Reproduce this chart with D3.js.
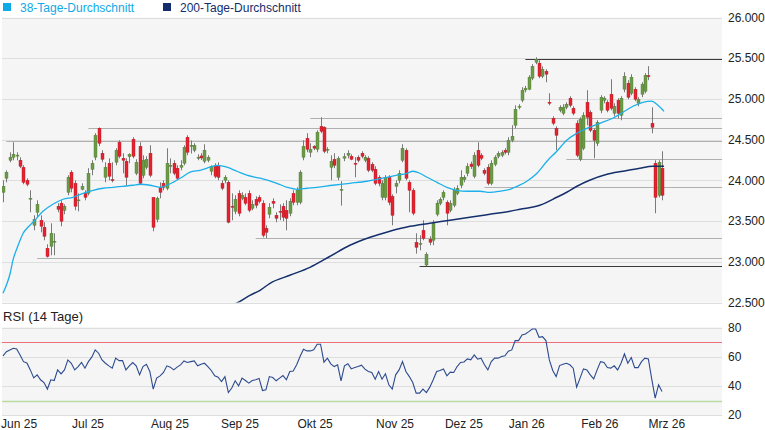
<!DOCTYPE html>
<html lang="de">
<head>
    <meta charset="UTF-8">
    <title>DAX Chart</title>
    <script src="https://d3js.org/d3.v7.min.js"></script>
    <style>
        body {
            margin: 0;
            background: #fff;
            font-family: Arial, "Liberation Sans", sans-serif;
        }

        svg text {
            fill: #222;
            font-size: 12px;
        }

        .panel {
            fill: #f5f5f5;
        }

        .grid line {
            stroke: #dedede;
            stroke-width: 1;
        }

        .level {
            stroke: #b0b0b0;
            stroke-width: 1;
        }

        .level.strong {
            stroke: #3a3a3a;
        }

        .wick {
            stroke: #7a7a7a;
            stroke-width: 1;
        }
    </style>
</head>
<body>
    <div id="chart"></div>
    <script>
        // daily candles [open, high, low, close], Jun 2025 - Feb 2026
        const ohlc = [
            [23853,24001,23731,23927],[24026,24124,23976,24100],[24247,24345,24222,24284],[24284,24468,24247,24320],
            [24300,24345,24247,24310],[24247,24284,24149,24173],[24161,24185,23952,23976],[24001,24026,23927,23952],
            [23768,23878,23608,23780],[23448,23571,23387,23522],[23608,23755,23547,23706],[23510,23571,23362,23436],
            [23424,23485,23264,23313],[23166,23215,23052,23065],[23190,23473,23080,23350],[23240,23350,23080,23252],
            [23682,23720,23608,23645],[23720,23755,23436,23498],[23633,23706,23584,23682],[23853,24063,23817,24038],
            [24100,24124,23853,23903],[23964,24001,23633,23682],[23750,23840,23620,23760],[23890,23964,23878,23927],
            [23840,23878,23755,23791],[23840,24149,23815,24087],[24136,24247,24063,24210],[24284,24579,24247,24554],
            [24640,24650,24420,24456],[24333,24370,24222,24259],[24038,24222,23976,24161],[24210,24271,24001,24050],
            [24010,24222,23976,24001],[24222,24394,24185,24370],[24468,24493,24271,24296],[24271,24333,24087,24247],
            [24235,24271,23940,24038],[24290,24333,24210,24320],[24505,24530,24271,24296],[24087,24259,24063,24222],
            [24419,24468,23940,23964],[24063,24308,24026,24247],[24161,24296,24136,24259],[24333,24431,24038,24063],
            [23791,23791,23375,23424],[23522,23800,23485,23780],[23915,23976,23780,23853],[23964,24001,23878,23915],
            [23903,24394,23878,24210],[24170,24270,24087,24185],[24210,24247,24063,24087],[24149,24185,24001,24026],
            [24161,24247,24124,24185],[24210,24431,24185,24407],[24530,24554,24308,24345],[24420,24490,24330,24430],
            [24370,24456,24345,24431],[24270,24320,24247,24284],[24300,24333,24250,24275],[24235,24443,24210,24370],
            [24247,24308,24222,24284],[24112,24185,24063,24173],[24173,24210,24026,24050],[24185,24222,24001,24038],
            [23964,24001,23878,23903],[24001,24063,23964,24038],[23976,24001,23473,23485],[23682,23840,23510,23670],
            [23620,23817,23584,23768],[23840,23878,23559,23596],[23780,23853,23755,23817],[23791,23840,23694,23718],
            [23840,23878,23608,23633],[23657,23755,23633,23706],[23768,23804,23657,23694],[23791,23817,23718,23743],
            [23718,23755,23300,23325],[23411,23448,23290,23362],[23584,23720,23534,23670],[23743,23780,23657,23718],
            [23571,23608,23485,23534],[23620,23706,23510,23610],[23682,23718,23498,23547],[23633,23755,23387,23534],
            [23596,23780,23559,23743],[23840,23878,23694,23731],[23731,23915,23694,23878],[23731,24124,23706,24100],
            [24284,24493,24247,24419],[24517,24579,24345,24382],[24345,24456,24284,24382],[24420,24431,24370,24395],
            [24382,24615,24345,24591],[24664,24775,24579,24603],[24652,24664,24333,24357],[24380,24407,24333,24382],
            [24161,24308,24001,24235],[24259,24333,24149,24185],[24038,24296,24001,24271],[23880,23990,23690,23890],
            [24271,24333,24235,24290],[24308,24370,24271,24333],[24296,24320,24247,24259],[24210,24284,24038,24200],
            [24284,24308,24222,24247],[24333,24357,24271,24296],[24247,24308,24222,24284],[24271,24296,24100,24124],
            [24198,24222,24100,24124],[24136,24173,23940,23964],[24038,24063,23927,23964],[23791,24001,23755,23964],
            [23791,24063,23755,24038],[24038,24063,23694,23731],[23804,23829,23448,23571],[23927,24001,23840,23964],
            [24001,24124,23964,24087],[24247,24443,24222,24394],[24370,24394,24001,24026],[23976,24001,23608,23878],
            [23878,23903,23571,23596],[23239,23350,23100,23178],[23215,23325,23141,23225],[23387,23510,23264,23289],
            [22960,23117,22945,23092],[23276,23313,23203,23240],[23264,23510,23203,23473],[23584,23755,23559,23720],
            [23718,23791,23694,23768],[23791,23878,23755,23853],[23731,23755,23448,23596],[23633,23755,23608,23718],
            [23694,23915,23669,23878],[23840,23940,23817,23903],[23940,24124,23903,24038],[24010,24063,23976,24038],
            [24087,24210,24050,24173],[24200,24230,24140,24170],[24050,24345,24026,24308],[24370,24468,24161,24185],
            [24308,24333,24247,24271],[24124,24149,24063,24087],[24161,24198,23940,23964],[23964,24247,23940,24210],
            [24198,24308,24173,24284],[24296,24357,24271,24333],[24308,24370,24284,24345],[24370,24394,24320,24345],
            [24345,24530,24308,24493],[24493,24677,24468,24542],[24677,24922,24640,24873],[24897,24935,24873,24910],
            [24984,25144,24959,25107],[25110,25160,25080,25130],[25119,25291,25107,25267],[25255,25427,25230,25402],
            [25451,25512,25427,25488],[25439,25475,25255,25279],[25279,25400,25255,25365],[25340,25365,25205,25304],
            [24960,25070,24922,24947],[24762,24787,24677,24701],[24640,24664,24370,24554],[24861,24922,24836,24897],
            [24824,24935,24799,24897],[24897,24959,24873,24935],[25009,25033,24897,24922],[24885,24910,24799,24824],
            [24701,24738,24284,24308],[24259,24775,24235,24750],[24394,24836,24370,24799],[24959,25107,24677,24775],
            [24836,24861,24591,24615],[24615,24640,24271,24493],[24456,24738,24420,24713],[24861,25046,24824,25021],
            [24984,25033,24947,25009],[24959,24984,24836,24861],[25058,25242,24861,24885],[24824,24947,24787,24910],
            [24984,25009,24762,24824],[24799,25033,24738,25009],[25119,25328,25082,25279],[25193,25230,24996,25021],
            [25070,25304,25046,25267],[25119,25144,24972,24996],[24947,25021,24910,24996],[25058,25205,25021,25181],
            [25095,25316,25070,25291],[25285,25402,25230,25280],[24701,24897,24578,24652],[24210,24247,23596,23791],
            [23817,24247,23791,24222],[24149,24357,23755,23817]
        ];

        // moving averages as [day index, value]
        const ma38 = [
            [0,22613],[1.2,22736],[2.1,22859],[2.9,23018],[4.1,23166],[5,23264],[5.9,23350],[7.3,23424],
            [8.8,23485],[11.7,23620],[14.6,23706],[17.6,23768],[20.5,23792],[23.4,23841],[26.4,23878],
            [29.3,23903],[32.2,23915],[35.1,23927],[38.1,23940],[40.1,23952],[43,23940],[46,23915],
            [48,23940],[49.8,23976],[52.4,24038],[54.8,24100],[57.7,24124],[60.6,24161],[62.7,24185],
            [65.6,24161],[68.5,24112],[71.4,24063],[75.3,24026],[80.2,23964],[83.2,23915],[86.1,23890],
            [89,23903],[91.9,23915],[96.6,23940],[101.6,23964],[106.6,23989],[109.5,24013],[112.4,24038],
            [115.4,24063],[118.3,24087],[120.1,24112],[122.1,24087],[124.2,24038],[127.1,23976],[130,23915],
            [132.9,23878],[135.9,23866],[139.7,23866],[142.6,23853],[145.5,23866],[148.5,23890],[149.9,23915],
            [153.4,23989],[156.4,24087],[159.3,24235],[162.2,24358],[165.1,24493],[168.1,24579],[171.8,24652],
            [174.8,24701],[178.6,24763],[181.6,24837],[184.5,24910],[187.4,24959],[190,24972],[191.8,24922],
            [193.6,24849]
        ];

        const ma200 = [
            [67.5,22480],[68.5,22496],[72.3,22588],[75.3,22650],[78.2,22736],[84,22834],[89.9,22932],
            [95.8,23068],[101.6,23203],[107.5,23301],[113.3,23375],[119.2,23436],[125,23473],[130.9,23510],
            [136.7,23547],[142.6,23584],[148.5,23621],[151.4,23645],[157.2,23694],[162.2,23792],[165.1,23854],
            [168.1,23928],[171.8,24001],[176.9,24075],[181.6,24112],[186.5,24149],[190.3,24173],[193.6,24173]
        ];

        // RSI (14) as [day index, value]
        const rsi = [
            [0,60.8],[1,63.7],[3,66],[4,65.5],[5,61.4],[6,56.8],[7,55.9],[8,51.1],[9,45.6],[10,47.7],
            [11,44.3],[12,42.4],[13,37.9],[14,44.3],[15,43.8],[16,51.1],[17,48.4],[18,51.1],[19,58],[20,55.7],
            [21,51.1],[22,53.4],[23,56.2],[24,52.3],[25,56.8],[26,59.9],[27,64.9],[28,62.6],[29,58],[30,55.7],
            [31,53.9],[32,52.3],[33,59.2],[34,57.5],[35,57.5],[36,51.1],[37,53.9],[38,56.2],[39,53.9],[40,47.7],
            [41,53.4],[42,55],[43,50],[44,37.9],[45,45.4],[46,47],[47,49.3],[48,53.9],[49,53],[50,51.1],
            [51,53],[52,54.6],[53,57.3],[54,56.2],[55,56.8],[56,57.3],[57,53.9],[58,55],[59,55.7],[60,53.4],
            [61,50.7],[62,47],[63,46.1],[64,43.1],[65,46.5],[66,35.5],[67,38.6],[68,43.6],[69,40.1],[70,45.4],
            [71,43.8],[72,42],[73,43.8],[74,44.3],[75,45.2],[76,36.9],[77,37.4],[78,46.5],[79,45.8],[80,43.6],
            [81,45.4],[82,47.2],[83,44.3],[84,50],[85,50.4],[86,54.6],[87,60.3],[88,65.4],[89,64.2],[90,64.2],
            [91,64.9],[92,68.8],[93,68.8],[94,56.4],[95,59.2],[96,55.3],[97,53.4],[98,54.6],[99,43.6],[100,53.9],
            [101,55.3],[102,51.8],[103,52.7],[104,53.4],[105,54.4],[106,51.6],[107,50],[108,49.3],[109,44.7],[110,50],
            [111,44.7],[112,48.4],[113,40.8],[114,37.9],[115,47.7],[116,51.1],[117,56.8],[118,50],[119,46.5],[120,42.4],
            [121,35.1],[122,35.1],[123,37.9],[124,35.5],[125,39.2],[126,44.3],[127,50],[128,50.7],[129,51.8],[130,47],
            [131,49.6],[132,49.3],[133,53.4],[134,56.2],[135,56.6],[136,58.7],[137,58],[138,61.4],[139,58.5],[140,59.2],
            [141,54.6],[142,51.1],[143,56.8],[144,59.2],[145,59.2],[146,60.3],[147,60.8],[148,64],[149,64.9],[150,71.3],
            [151,71.3],[152,75.2],[153,75.9],[154,77.5],[155,79.3],[156,79.3],[157,73.6],[158,74],[159,71.3],[160,58],
            [161,50.7],[162,46.5],[163,54.1],[164,55],[165,55.7],[166,54.6],[167,52.3],[168,39.2],[169,45.4],[170,51.8],
            [171,51.1],[172,47.7],[173,44.9],[174,51.1],[175,56.8],[176,56.2],[177,52.7],[178,52.3],[179,53.9],[180,51.1],
            [181,55.7],[182,62.1],[183,55.7],[184,59.6],[185,52.7],[186,52.7],[187,56.8],[188,59.2],[189,58.7],[190,44.7],
            [191,31.7],[192,40.8],[193,36.2]
        ];

        // horizontal support / resistance lines: [price, start index, strong]
        const levels = [
            [25496, 153, true],
            [24767, 90, false],
            [24644, 25, false],
            [24480, 1, false],
            [24268, 165, false],
            [23919, 141, false],
            [23289, 74, false],
            [23052, 10, false],
            [22945, 122, true]
        ];

        const priceTicks = [22500, 23000, 23500, 24000, 24500, 25000, 25500, 26000];
        const rsiTicks = [20, 40, 60, 80];
        const monthLabels = ["Jun 25", "Jul 25", "Aug 25", "Sep 25", "Okt 25", "Nov 25", "Dez 25", "Jan 26", "Feb 26", "Mrz 26"];
        const monthIdx = [4.7, 24.9, 48.9, 69.4, 91.4, 114.8, 135, 153.4, 174.8, 194.4];

        const W = 765, H = 430;
        const left = 2, right = 722;
        const mainTop = 17.5, mainBottom = 302.5;
        const rsiTop = 327, rsiBottom = 415;

        const svg = d3.select("#chart")
            .append("svg")
            .attr("width", W)
            .attr("height", H);

        const x = d3.scaleLinear().domain([0, 193]).range([3, 662]);
        const y = d3.scaleLinear().domain([22500, 26000]).range([mainBottom, mainTop]);
        const yR = d3.scaleLinear().domain([20, 80]).range([rsiBottom, 328]);

        svg.append("defs").append("clipPath").attr("id", "main-clip")
            .append("rect")
            .attr("x", left).attr("y", mainTop)
            .attr("width", right - left).attr("height", mainBottom - mainTop);

        // Legend
        const legend = [
            { label: "38-Tage-Durchschnitt", color: "#0fa9e6", x: 3 },
            { label: "200-Tage-Durchschnitt", color: "#132e6b", x: 163 }
        ];
        legend.forEach(l => {
            svg.append("rect")
                .attr("x", l.x).attr("y", 3)
                .attr("width", 8).attr("height", 8)
                .attr("fill", l.color);
            svg.append("text")
                .attr("x", l.x + 17).attr("y", 12)
                .style("fill", l.color)
                .text(l.label);
        });

        // Main panel
        svg.append("rect")
            .attr("class", "panel")
            .attr("x", left).attr("y", mainTop)
            .attr("width", right - left).attr("height", mainBottom - mainTop);

        svg.append("g")
            .attr("class", "grid")
            .selectAll("line")
            .data(priceTicks)
            .join("line")
            .attr("x1", left).attr("x2", right)
            .attr("y1", d => Math.round(y(d)) + 0.5)
            .attr("y2", d => Math.round(y(d)) + 0.5);

        svg.append("g")
            .selectAll("text")
            .data(priceTicks)
            .join("text")
            .attr("x", 728)
            .attr("y", d => y(d))
            .attr("dy", "0.35em")
            .text(d => d3.format(",")(d).replace(",", "."));

        // Support and resistance lines
        svg.append("g")
            .selectAll("line")
            .data(levels)
            .join("line")
            .attr("class", d => d[2] ? "level strong" : "level")
            .attr("x1", d => x(d[1]))
            .attr("x2", right)
            .attr("y1", d => Math.round(y(d[0])) + 0.5)
            .attr("y2", d => Math.round(y(d[0])) + 0.5);

        const plot = svg.append("g").attr("clip-path", "url(#main-clip)");

        // Candles
        const candles = plot.append("g")
            .selectAll("g")
            .data(ohlc)
            .join("g");

        candles.append("line")
            .attr("class", "wick")
            .attr("x1", (d, i) => Math.round(x(i)) + 0.5)
            .attr("x2", (d, i) => Math.round(x(i)) + 0.5)
            .attr("y1", d => y(d[1]))
            .attr("y2", d => y(d[2]));

        candles.append("rect")
            .attr("x", (d, i) => Math.round(x(i)) - 1)
            .attr("width", 3)
            .attr("y", d => y(Math.max(d[0], d[3])))
            .attr("height", d => Math.max(1, Math.abs(y(d[0]) - y(d[3]))))
            .attr("fill", d => d[3] >= d[0] ? "#6c9a48" : "#e5222f")
            .attr("stroke", d => d[3] >= d[0] ? "#4d7a30" : "#b01825")
            .attr("stroke-width", 0.4);

        // Moving averages
        const maLine = d3.line()
            .x(d => x(d[0]))
            .y(d => y(d[1]))
            .curve(d3.curveMonotoneX);

        plot.append("path")
            .datum(ma200)
            .attr("fill", "none")
            .attr("stroke", "#142f6c")
            .attr("stroke-width", 1.5)
            .attr("d", maLine);

        plot.append("path")
            .datum(ma38)
            .attr("fill", "none")
            .attr("stroke", "#1cb0ea")
            .attr("stroke-width", 1.3)
            .attr("d", maLine);

        // RSI panel
        svg.append("text")
            .attr("x", 3).attr("y", 321)
            .style("font-size", "13px")
            .text("RSI (14 Tage)");

        svg.append("rect")
            .attr("class", "panel")
            .attr("x", left).attr("y", rsiTop)
            .attr("width", right - left).attr("height", rsiBottom - rsiTop);

        svg.append("g")
            .attr("class", "grid")
            .selectAll("line")
            .data(rsiTicks)
            .join("line")
            .attr("x1", left).attr("x2", right)
            .attr("y1", d => Math.round(yR(d)) + 0.5)
            .attr("y2", d => Math.round(yR(d)) + 0.5);

        svg.append("line")
            .attr("x1", left).attr("x2", right)
            .attr("y1", Math.round(yR(70)) - 0.5).attr("y2", Math.round(yR(70)) - 0.5)
            .attr("stroke", "#ec6f7a").attr("stroke-width", 1);

        svg.append("line")
            .attr("x1", left).attr("x2", right)
            .attr("y1", Math.round(yR(30)) + 0.5).attr("y2", Math.round(yR(30)) + 0.5)
            .attr("stroke", "#b9dca3").attr("stroke-width", 1.5);

        svg.append("g")
            .selectAll("text")
            .data(rsiTicks)
            .join("text")
            .attr("x", 728)
            .attr("y", d => yR(d))
            .attr("dy", "0.35em")
            .text(d => d);

        svg.append("path")
            .datum(rsi)
            .attr("fill", "none")
            .attr("stroke", "#2c4a8e")
            .attr("stroke-width", 1.1)
            .attr("d", d3.line().x(d => x(d[0])).y(d => yR(d[1])));

        // Month labels
        svg.append("g")
            .selectAll("text")
            .data(monthLabels)
            .join("text")
            .attr("x", (d, i) => x(monthIdx[i]))
            .attr("y", 428)
            .attr("text-anchor", "middle")
            .text(d => d);
    </script>
</body>
</html>
